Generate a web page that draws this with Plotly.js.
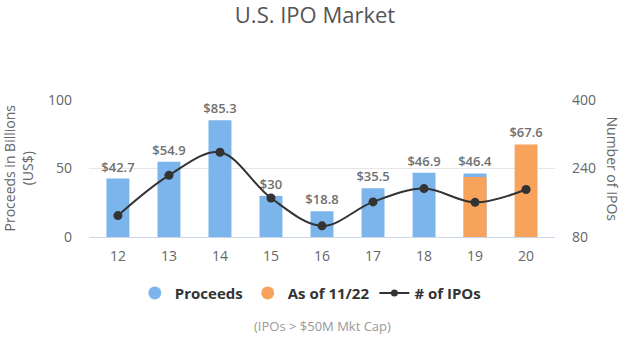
<!DOCTYPE html>
<html>
<head>
<meta charset="utf-8">
<script src="https://cdn.plot.ly/plotly-3.0.1.min.js"></script>
<style>html,body{margin:0;padding:0;background:#fff;}#chart{width:630px;height:340px;}</style>
</head>
<body>
<div id="chart"></div>
<script>
const years = ["12","13","14","15","16","17","18","19","20"];
const proceeds = [42.7, 54.9, 85.3, 30, 18.8, 35.5, 46.9, 46.4, null];
const asOf = [null, null, null, null, null, null, null, 43.8, 67.6];
const asOfLabels = ["", "", "", "", "", "", "", "", "$67.6"];
const ipoCounts = [130, 224, 278, 171, 106, 162, 193, 161, 191];

const blue = "#7cb5ec";
const orange = "#f7a35c";
const dark = "#333333";
const font = "Open Sans, Lato, sans-serif";

const fmt = v => v === null ? "" : "$" + v;

const traces = [
  {
    type: "bar", x: years, y: proceeds, name: "Proceeds", showlegend: false,
    marker: {color: blue}, width: 0.45,
    text: proceeds.map(fmt), textposition: "outside", cliponaxis: false, constraintext: "none",
    textfont: {color: "#707070", size: 13, family: font, weight: 600},
    hoverinfo: "x+y"
  },
  {
    type: "bar", x: years, y: asOf, name: "As of 11/22", showlegend: false,
    marker: {color: orange}, width: 0.45,
    text: asOfLabels, textposition: "outside", cliponaxis: false, constraintext: "none",
    textfont: {color: "#707070", size: 13, family: font, weight: 600},
    hoverinfo: "x+y"
  },
  {
    type: "scatter", mode: "lines+markers", x: years, y: ipoCounts, yaxis: "y2",
    name: "# of IPOs", showlegend: false, cliponaxis: false,
    line: {color: dark, width: 2, shape: "spline", smoothing: 1},
    marker: {color: dark, size: 9}
  },
  {type: "scatter", mode: "markers", x: [null], y: [null], name: "Proceeds",
   marker: {color: blue, size: 13, symbol: "circle"}},
  {type: "scatter", mode: "markers", x: [null], y: [null], name: "As of 11/22",
   marker: {color: orange, size: 13, symbol: "circle"}},
  {type: "scatter", mode: "lines+markers", x: [null], y: [null], name: "# of IPOs",
   line: {color: dark, width: 2}, marker: {color: dark, size: 7}}
];

const layout = {
  width: 630, height: 340,
  margin: {l: 89, r: 75, t: 100, b: 103},
  paper_bgcolor: "#fff", plot_bgcolor: "#fff",
  font: {family: font, color: "#666", size: 13},
  barmode: "overlay",
  title: {text: "U.S. IPO Market", x: 0.5, xanchor: "center", y: 0.955, yanchor: "middle",
          font: {size: 22, color: "#555", family: font}},
  xaxis: {type: "category", showgrid: false, showline: true, linecolor: "#ccd6eb", linewidth: 1,
          ticks: "", ticklabelstandoff: 6, tickfont: {size: 14, color: "#666"}, fixedrange: true},
  yaxis: {range: [0, 100], tickvals: [0, 50, 100], showgrid: true, gridcolor: "#e6e6e6",
          zeroline: false, ticks: "", ticklabelstandoff: 16, tickfont: {size: 14, color: "#666"}},
  yaxis2: {overlaying: "y", side: "right", range: [80, 400], tickvals: [80, 240, 400],
           showgrid: false, zeroline: false, ticklabelstandoff: 16, tickfont: {size: 14, color: "#666"}},
  legend: {orientation: "h", x: 0.475, xanchor: "center", y: -0.41, yanchor: "middle",
           font: {size: 15, color: "#333", family: font, weight: "bold"},
           itemwidth: 30},
  annotations: [
    {text: "(IPOs > $50M Mkt Cap)", xref: "paper", yref: "paper", x: 0.5, y: -0.65,
     xanchor: "center", yanchor: "middle", showarrow: false,
     font: {size: 13, color: "#999", family: font}},
    {text: "Proceeds in Billions<br>(US$)", xref: "paper", yref: "paper", x: 0, xshift: -71, y: 0.5,
     xanchor: "center", yanchor: "middle", textangle: -90, showarrow: false,
     font: {size: 14, color: "#666", family: font}},
    {text: "Number of IPOs", xref: "paper", yref: "paper", x: 1, xshift: 57, y: 0.5,
     xanchor: "center", yanchor: "middle", textangle: 90, showarrow: false,
     font: {size: 14, color: "#666", family: font}}
  ],
  showlegend: true
};

Plotly.newPlot("chart", traces, layout, {displayModeBar: false, staticPlot: true});
</script>
</body>
</html>
